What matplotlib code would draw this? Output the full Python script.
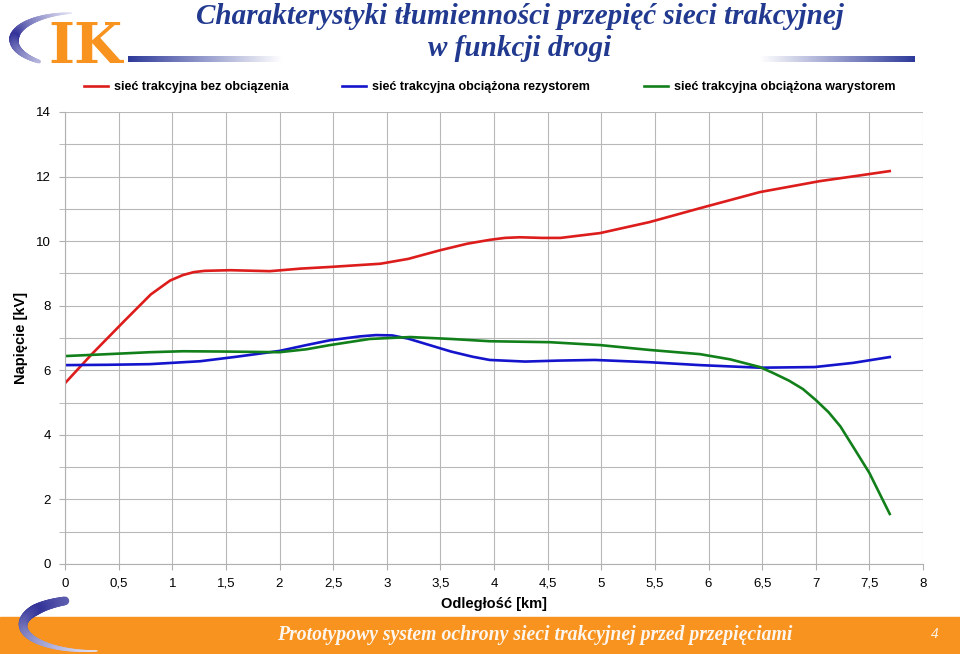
import numpy as np
import matplotlib.pyplot as plt
from matplotlib.collections import LineCollection
from matplotlib.patches import Rectangle
from matplotlib.colors import LinearSegmentedColormap

# data (distance in km, voltage in kV)
x_red = [0, 0.25, 0.56, 0.8, 0.98, 1.1, 1.2, 1.3, 1.54, 1.91, 2.2, 2.47, 2.94, 3.2, 3.5, 3.75, 3.96, 4.1, 4.24, 4.45, 4.62, 4.99, 5.45, 5.92, 6.48, 7.04, 7.4, 7.69]
y_red = [5.6, 6.5, 7.55, 8.35, 8.78, 8.95, 9.04, 9.08, 9.1, 9.07, 9.15, 9.2, 9.3, 9.45, 9.72, 9.92, 10.04, 10.1, 10.12, 10.1, 10.1, 10.25, 10.59, 11.02, 11.52, 11.86, 12.03, 12.17]

x_blue = [0, 0.4, 0.79, 1.26, 1.6, 2.0, 2.25, 2.47, 2.75, 2.9, 3.05, 3.2, 3.4, 3.6, 3.8, 3.96, 4.29, 4.6, 4.94, 5.45, 5.92, 6.48, 6.99, 7.35, 7.69]
y_blue = [6.16, 6.17, 6.19, 6.28, 6.42, 6.6, 6.78, 6.93, 7.05, 7.09, 7.08, 6.98, 6.78, 6.58, 6.42, 6.32, 6.27, 6.3, 6.32, 6.25, 6.16, 6.08, 6.1, 6.23, 6.41]

x_green = [0, 0.4, 0.79, 1.1, 1.5, 2.0, 2.25, 2.47, 2.84, 3.22, 3.6, 3.96, 4.52, 4.99, 5.45, 5.92, 6.2, 6.48, 6.6, 6.75, 6.88, 7.0, 7.12, 7.23, 7.36, 7.5, 7.6, 7.69]
y_green = [6.44, 6.5, 6.56, 6.59, 6.58, 6.56, 6.65, 6.78, 6.97, 7.03, 6.97, 6.9, 6.87, 6.78, 6.63, 6.5, 6.34, 6.1, 5.92, 5.68, 5.42, 5.08, 4.7, 4.26, 3.57, 2.82, 2.15, 1.55]

labels = ["sieć trakcyjna bez obciązenia",
          "sieć trakcyjna obciążona rezystorem",
          "sieć trakcyjna obciążona warystorem"]
x_ticks = [0, 0.5, 1, 1.5, 2, 2.5, 3, 3.5, 4, 4.5, 5, 5.5, 6, 6.5, 7, 7.5, 8]
x_ticklabels = ["0", "0,5", "1", "1,5", "2", "2,5", "3", "3,5", "4", "4,5",
                "5", "5,5", "6", "6,5", "7", "7,5", "8"]
y_ticks = [0, 2, 4, 6, 8, 10, 12, 14]

plt.rcParams['font.family'] = ['Liberation Sans', 'DejaVu Sans']

W, H = 960, 654
fig = plt.figure(figsize=(9.6, 6.54), dpi=100)

# decorations layer in pixel coordinates
deco = fig.add_axes([0, 0, 1, 1])
deco.axis('off')

orange = '#f7931e'
navy = '#213a8f'

# footer band
deco.add_patch(Rectangle((0, 617), W, 37, color=orange, zorder=1))

# gradient bars next to the title
grad = np.linspace(0, 1, 256).reshape(1, -1)
bar_cmap = LinearSegmentedColormap.from_list('bar', ['#2e3a9a', '#ffffff'])
deco.imshow(grad, cmap=bar_cmap, extent=[128, 282, 62, 56], aspect='auto', zorder=2)
deco.imshow(grad[:, ::-1], cmap=bar_cmap, extent=[760, 915, 62, 56], aspect='auto', zorder=2)
deco.set_xlim(0, W)
deco.set_ylim(H, 0)


def swoosh(cx, cy, rx, ry, a0, a1, apeak, wmax):
    t = np.linspace(np.radians(a0), np.radians(a1), 120)
    px = cx + rx * np.cos(t)
    py = cy - ry * np.sin(t)
    pts = np.column_stack([px, py]).reshape(-1, 1, 2)
    segs = np.concatenate([pts[:-1], pts[1:]], axis=1)
    tm = (t[:-1] + t[1:]) / 2
    span = max(abs(np.radians(apeak) - np.radians(a0)), abs(np.radians(a1) - np.radians(apeak)))
    k = np.clip(1 - np.abs(tm - np.radians(apeak)) / span, 0, 1)
    dark = np.array([0.2, 0.2, 0.6])
    light = np.array([0.9, 0.9, 0.97])
    cols = [tuple(light + (dark - light) * v) for v in k]
    lws = 1.0 + wmax * k
    deco.add_collection(LineCollection(segs, colors=cols, linewidths=lws, capstyle='round', zorder=3))


# logo swoosh (top-left) and footer swoosh (bottom-left)
swoosh(77, 40, 63, 27, 95, 233, 175, 6)
swoosh(90, 625, 67, 26, 112, 276, 145, 7)

# logo letters
fig.text(48 / W, 1 - 63 / H, "IK", color=orange, fontsize=40, fontweight='bold',
         family='DejaVu Serif', ha='left', va='baseline')

# title
fig.text(520 / W, 1 - 16 / H, "Charakterystyki tłumienności przepięć sieci trakcyjnej",
         color=navy, fontsize=21, fontweight='bold', style='italic',
         family='Liberation Serif', ha='center', va='center')
fig.text(520 / W, 1 - 48 / H, "w funkcji drogi",
         color=navy, fontsize=21, fontweight='bold', style='italic',
         family='Liberation Serif', ha='center', va='center')

# footer text
fig.text(535 / W, 1 - 635 / H, "Prototypowy system ochrony sieci trakcyjnej przed przepięciami",
         color='#fdf6ee', fontsize=14.2, fontweight='bold', style='italic',
         family='Liberation Serif', ha='center', va='center')
fig.text(935 / W, 1 - 635 / H, "4", color='#fdf6ee', fontsize=11, style='italic',
         family='Liberation Serif', ha='center', va='center')

# main chart
ax = fig.add_axes([65 / W, 1 - 564 / H, (923 - 65) / W, (564 - 112) / H])
ax.patch.set_alpha(0)
ax.plot(x_red, y_red, color='#dd1c1c', lw=1.9, label=labels[0])
ax.plot(x_blue, y_blue, color='#1414cc', lw=1.9, label=labels[1])
ax.plot(x_green, y_green, color='#12801a', lw=1.9, label=labels[2])

ax.set_xlim(0, 8)
ax.set_ylim(0, 14)
ax.set_xticks(x_ticks)
ax.set_xticklabels(x_ticklabels)
ax.set_yticks(y_ticks)
ax.set_yticks(np.arange(1, 14, 2), minor=True)
ax.grid(True, which='both', color='#b8b8b8', lw=0.8)
ax.set_axisbelow(True)
for s in ['top', 'right']:
    ax.spines[s].set_visible(False)
for s in ['left', 'bottom']:
    ax.spines[s].set_color('#b0b0b0')
ax.tick_params(which='both', direction='out', length=4, color='#b0b0b0',
               labelsize=9.5, pad=6)
ax.set_xlabel("Odległość [km]", fontsize=10.5, fontweight='bold', labelpad=5)
ax.set_ylabel("Napięcie [kV]", fontsize=10.5, fontweight='bold', labelpad=6)

leg = ax.legend(loc='lower center', bbox_to_anchor=(0.495, 1.0), ncol=3, frameon=False,
                prop={'size': 9, 'weight': 'bold'}, handlelength=1.9, handletextpad=0.5,
                columnspacing=4.3, borderaxespad=1.1)

fig.savefig("out.png", dpi=100)
